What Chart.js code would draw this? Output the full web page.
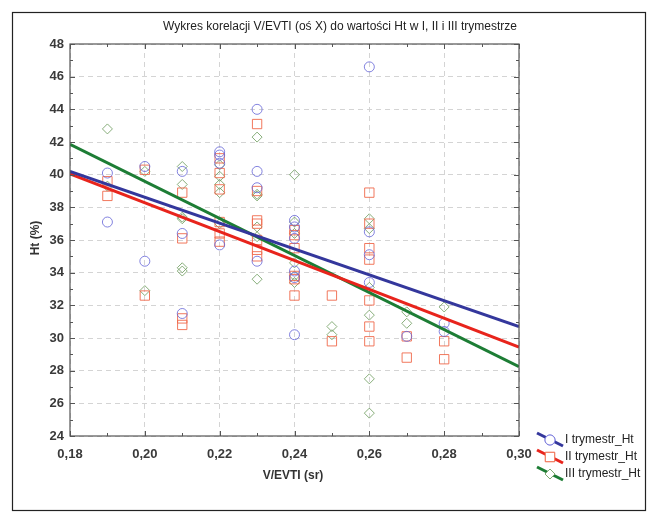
<!DOCTYPE html>
<html>
<head>
<meta charset="utf-8">
<title>Wykres korelacji V/EVTI</title>
<script src="https://cdn.jsdelivr.net/npm/chart.js@4"></script>
<style>
  html, body { margin: 0; padding: 0; background: #fff; }
  #wrap { width: 653px; height: 521px; position: relative; }
</style>
</head>
<body>
<div id="wrap"><canvas id="scatter" width="653" height="521"></canvas></div>
<script>
// V/EVTI values (x) and Ht readings per trimester at each V/EVTI value
const vevti = [0.19, 0.20, 0.21, 0.22, 0.23, 0.24, 0.25, 0.26, 0.27, 0.28];
const htI = [
  [40.1, 37.1], [40.5, 34.7], [40.2, 36.4, 31.5], [41.4, 41.2, 40.7, 35.7],
  [44.0, 40.2, 39.2, 34.7], [37.2, 36.8, 36.1, 34.1, 33.7, 30.2], [],
  [46.6, 36.5, 35.1, 33.4], [30.1], [30.9, 30.4]
];
const htII = [
  [39.6, 38.7], [40.3, 32.6], [38.9, 36.1, 31.2, 30.8], [41.0, 40.1, 39.1, 37.1, 36.4, 35.9],
  [43.1, 39.0, 37.2, 37.0, 36.0, 35.4, 35.0], [36.6, 36.3, 35.5, 33.8, 33.6, 32.6], [32.6, 29.8],
  [38.9, 37.0, 35.5, 34.8, 32.3, 30.7, 29.8], [30.1, 28.8], [29.8, 28.7]
];
const htIII = [
  [42.8, 39.3], [40.2, 32.9], [40.5, 39.4, 37.4, 37.3, 34.3, 34.1], [40.6, 39.9, 39.4, 38.9, 37.0],
  [42.3, 38.8, 38.7, 36.8, 36.2, 33.6], [40.0, 37.1, 36.4, 34.6, 33.8, 33.4], [30.7, 30.2],
  [37.3, 36.7, 33.1, 31.4, 27.5, 25.4], [31.6, 30.9], [31.9]
];

// fitted regression lines, value at both ends of the x range
const fitX = [0.18, 0.30];
const fitI = [40.2, 30.7];
const fitII = [40.05, 29.45];
const fitIII = [41.85, 28.25];

const xTicks = [0.18, 0.20, 0.22, 0.24, 0.26, 0.28, 0.30];
const yTicks = [24, 26, 28, 30, 32, 34, 36, 38, 40, 42, 44, 46, 48];

const seriesNames = ['I trymestr_Ht', 'II trymestr_Ht', 'III trymestr_Ht'];

const FONT = 'Liberation Sans, Arial, sans-serif';

function toPoints(groups) {
  const pts = [];
  groups.forEach(function(vals, i) {
    vals.forEach(function(v) { pts.push({ x: vevti[i], y: v }); });
  });
  return pts;
}
function fitPoints(ends) {
  return fitX.map(function(x, i) { return { x: x, y: ends[i] }; });
}

const markerStyles = [
  { style: 'circle', color: 'rgba(100, 100, 215, 0.8)', radius: 5 },
  { style: 'rect', color: 'rgba(240, 105, 75, 0.9)', radius: 6.6 },
  { style: 'rectRot', color: 'rgba(115, 160, 100, 0.85)', radius: 5 }
];
const lineColors = ['#34379c', '#e8241c', '#1d7d35'];

// frame, titles, tick marks and legend drawn over the chart
const decorations = {
  id: 'decorations',
  afterDraw: function(chart) {
    const ctx = chart.ctx;
    const area = chart.chartArea;
    const xs = chart.scales.x;
    const ys = chart.scales.y;
    ctx.save();

    // outer frame
    ctx.strokeStyle = '#222';
    ctx.lineWidth = 1.2;
    ctx.strokeRect(12.5, 12.5, 633, 498);

    // title
    ctx.fillStyle = '#222';
    ctx.font = '12px ' + FONT;
    ctx.textAlign = 'center';
    ctx.textBaseline = 'middle';
    ctx.fillText('Wykres korelacji V/EVTI (oś X) do wartości Ht w I, II i III trymestrze', 340, 27);

    // axis titles
    ctx.font = 'bold 12px ' + FONT;
    ctx.fillStyle = '#333';
    ctx.fillText('V/EVTI (sr)', 293, 476);
    ctx.save();
    ctx.translate(36, 238);
    ctx.rotate(-Math.PI / 2);
    ctx.fillText('Ht (%)', 0, 0);
    ctx.restore();

    // plot box
    ctx.strokeStyle = '#555';
    ctx.lineWidth = 1.2;
    ctx.strokeRect(area.left, area.top, area.right - area.left, area.bottom - area.top);

    // inward tick marks, major and minor, on all four sides
    ctx.lineWidth = 1;
    ctx.beginPath();
    for (let v = 24; v <= 48; v += 1) {
      const py = Math.round(ys.getPixelForValue(v)) + 0.5;
      const len = v % 2 === 0 ? 5 : 3;
      ctx.moveTo(area.left, py); ctx.lineTo(area.left + len, py);
      ctx.moveTo(area.right, py); ctx.lineTo(area.right - len, py);
    }
    for (let k = 18; k <= 30; k += 1) {
      const px = Math.round(xs.getPixelForValue(k / 100)) + 0.5;
      const len = k % 2 === 0 ? 5 : 3;
      ctx.moveTo(px, area.bottom); ctx.lineTo(px, area.bottom - len);
      ctx.moveTo(px, area.top); ctx.lineTo(px, area.top + len);
    }
    ctx.stroke();

    // legend
    const rows = [440, 457, 474];
    ctx.font = '12px ' + FONT;
    ctx.textAlign = 'left';
    rows.forEach(function(ry, i) {
      ctx.strokeStyle = lineColors[i];
      ctx.lineWidth = 3;
      ctx.beginPath();
      ctx.moveTo(537, ry - 7);
      ctx.lineTo(563, ry + 6);
      ctx.stroke();
      const m = markerStyles[i];
      ctx.fillStyle = '#fff';
      ctx.strokeStyle = m.color;
      ctx.lineWidth = 1;
      Chart.helpers.drawPoint(ctx, { pointStyle: m.style, radius: m.radius, rotation: 0, borderWidth: 1 }, 550, ry);
      ctx.fill();
      ctx.stroke();
      ctx.fillStyle = '#222';
      ctx.fillText(seriesNames[i], 565, ry);
    });

    ctx.restore();
  }
};

const bgPlugin = {
  id: 'bg',
  beforeDraw: function(chart) {
    const ctx = chart.ctx;
    ctx.save();
    ctx.fillStyle = '#fff';
    ctx.fillRect(0, 0, chart.width, chart.height);
    ctx.restore();
  }
};

const pointSets = [htI, htII, htIII].map(function(groups, i) {
  const m = markerStyles[i];
  return {
    label: seriesNames[i],
    data: toPoints(groups),
    pointStyle: m.style,
    pointRadius: m.radius,
    pointBorderColor: m.color,
    pointBackgroundColor: 'rgba(0,0,0,0)',
    pointBorderWidth: 1,
    showLine: false,
    order: 2
  };
});

const lineSets = [fitI, fitII, fitIII].map(function(ends, i) {
  return {
    label: seriesNames[i] + ' fit',
    data: fitPoints(ends),
    showLine: true,
    borderColor: lineColors[i],
    borderWidth: 3,
    pointRadius: 0,
    fill: false,
    order: 1
  };
});

new Chart(document.getElementById('scatter'), {
  type: 'scatter',
  data: { datasets: pointSets.concat(lineSets) },
  options: {
    responsive: false,
    animation: false,
    layout: { padding: { top: 44, right: 134, left: 0, bottom: 0 } },
    plugins: {
      legend: { display: false },
      tooltip: { enabled: false },
      title: { display: false }
    },
    scales: {
      x: {
        type: 'linear',
        min: 0.18,
        max: 0.30,
        afterFit: function(scale) { scale.height = 85; },
        afterBuildTicks: function(scale) {
          scale.ticks = xTicks.map(function(v) { return { value: v }; });
        },
        ticks: {
          maxRotation: 0,
          autoSkip: false,
          padding: 11,
          color: '#3a3a3a',
          font: { family: FONT, size: 13, weight: 'bold' },
          callback: function(value) { return Number(value).toFixed(2).replace('.', ','); }
        },
        grid: { color: '#d4d4d4', lineWidth: 1, drawTicks: false },
        border: { display: false, dash: [5, 4] }
      },
      y: {
        type: 'linear',
        min: 24,
        max: 48,
        afterFit: function(scale) { scale.width = 70; },
        afterBuildTicks: function(scale) {
          scale.ticks = yTicks.map(function(v) { return { value: v }; });
        },
        ticks: {
          padding: 6,
          autoSkip: false,
          color: '#3a3a3a',
          font: { family: FONT, size: 13, weight: 'bold' }
        },
        grid: { color: '#d4d4d4', lineWidth: 1, drawTicks: false },
        border: { display: false, dash: [5, 4] }
      }
    }
  },
  plugins: [bgPlugin, decorations]
});
</script>
</body>
</html>
